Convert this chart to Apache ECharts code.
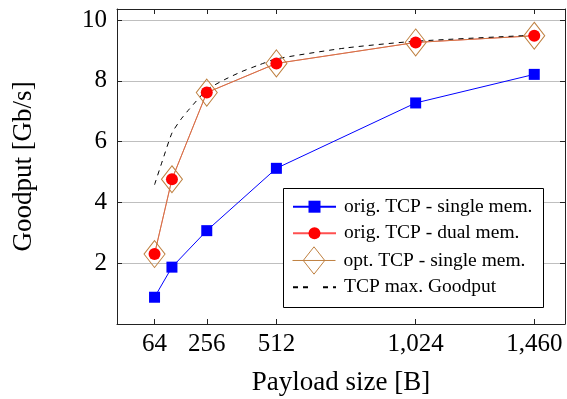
<!DOCTYPE html>
<html>
<head>
<meta charset="utf-8">
<script src="https://cdn.jsdelivr.net/npm/echarts@6/dist/echarts.min.js"></script>
<style>
  html, body { margin: 0; padding: 0; background: #fff; }
  #chart { width: 567px; height: 399px; }
</style>
</head>
<body>
<div id="chart"></div>
<script>
// payload sizes measured
const payloadX = [64, 128, 256, 512, 1024, 1460];
const xTicks = [64, 256, 512, 1024, 1460];

const origSingle = [0.88, 1.87, 3.07, 5.12, 7.27, 8.21];
const origDual = [2.30, 4.76, 7.61, 8.57, 9.26, 9.48];
const optSingle = [2.30, 4.76, 7.61, 8.57, 9.26, 9.48];

// theoretical max goodput curve
const maxX = [64, 96, 128, 160, 192, 256, 320, 384, 448, 512, 768, 1024, 1460];
const maxGoodput = [4.58, 5.45, 6.28, 6.72, 7.07, 7.7, 8.03, 8.3, 8.52, 8.72, 9.08, 9.3, 9.5];

const names = [
  'orig. TCP - single mem.',
  'orig. TCP - dual mem.',
  'opt. TCP - single mem.',
  'TCP max. Goodput'
];

const serif = 'Liberation Serif';
const pairs = (xs, ys) => xs.map((x, i) => [x, ys[i]]);

const chart = echarts.init(document.getElementById('chart'));

const axisLine = { show: true, onZero: false, lineStyle: { color: '#222', width: 1 } };
const tick = { show: true, inside: true, length: 5, lineStyle: { color: '#222' } };
const legendText = { fontFamily: serif, fontSize: 19.5, color: '#000', lineHeight: 20, padding: [0, 0, 0, 3] };

function legendRow(name, top, extra) {
  return Object.assign({
    show: true,
    left: 292,
    top: top,
    padding: 0,
    itemWidth: 43,
    itemHeight: 15,
    selectedMode: false,
    textStyle: legendText,
    data: [name],
    z: 5
  }, extra || {});
}

chart.setOption({
  animation: false,
  grid: { left: 117, right: 2, top: 9, bottom: 75, outerBoundsMode: 'none', containLabel: false },
  xAxis: [{
    type: 'value',
    min: -74,
    max: 1573,
    axisLine: axisLine,
    axisTick: Object.assign({ customValues: xTicks }, tick),
    axisLabel: {
      customValues: xTicks,
      margin: 8,
      fontFamily: serif,
      fontSize: 25,
      color: '#000',
      formatter: v => v.toLocaleString('en-US')
    },
    splitLine: { show: false },
    name: 'Payload size [B]',
    nameLocation: 'middle',
    nameGap: 45,
    nameTextStyle: { fontFamily: serif, fontSize: 27, color: '#000' }
  }, {
    type: 'value',
    position: 'top',
    min: -74,
    max: 1573,
    axisLine: axisLine,
    axisTick: Object.assign({ customValues: xTicks }, tick),
    axisLabel: { show: false },
    splitLine: { show: false }
  }],
  yAxis: [{
    type: 'value',
    min: 0,
    max: 10.36,
    interval: 2,
    axisLine: axisLine,
    axisTick: tick,
    axisLabel: {
      margin: 10,
      fontFamily: serif,
      fontSize: 25,
      color: '#000',
      formatter: v => (v > 0 && v % 2 === 0) ? String(v) : ''
    },
    splitLine: { show: true, lineStyle: { color: '#bfbfbf', width: 1 } },
    name: 'Goodput [Gb/s]',
    nameLocation: 'middle',
    nameRotate: 90,
    nameGap: 80,
    nameTextStyle: { fontFamily: serif, fontSize: 27, color: '#000' }
  }, {
    type: 'value',
    position: 'right',
    min: 0,
    max: 10.36,
    interval: 2,
    axisLine: axisLine,
    axisTick: tick,
    axisLabel: { show: false },
    splitLine: { show: false }
  }],
  graphic: [{
    type: 'rect',
    left: 283,
    top: 188,
    shape: { width: 260, height: 119 },
    style: { fill: '#fff', stroke: '#000', lineWidth: 1 },
    z: 4
  }],
  legend: [
    legendRow(names[0], 196.7),
    legendRow(names[1], 223.3),
    legendRow(names[2], 246.3, {
      itemHeight: 28,
      data: [{ name: names[2], icon: 'path://M0,14L44,14M11,14L22,0L33,14L22,28Z' }],
      itemStyle: { color: 'rgba(0,0,0,0)', borderColor: '#bf8040', borderWidth: 1 }
    }),
    legendRow(names[3], 277.3, {
      itemStyle: { color: 'rgba(0,0,0,0)', borderWidth: 0 }
    })
  ],
  series: [{
    name: names[0],
    type: 'line',
    data: pairs(payloadX, origSingle),
    symbol: 'rect',
    symbolSize: 11,
    itemStyle: { color: '#0000ff' },
    lineStyle: { color: '#0000ff', width: 1 }
  }, {
    name: names[1],
    type: 'line',
    data: pairs(payloadX, origDual),
    symbol: 'circle',
    symbolSize: 12,
    itemStyle: { color: '#ff0000' },
    lineStyle: { color: '#ff5050', width: 1 }
  }, {
    name: names[2],
    type: 'line',
    data: pairs(payloadX, optSingle),
    symbol: 'path://M11,0L22,14L11,28L0,14Z',
    symbolSize: [21, 27],
    itemStyle: { color: 'rgba(0,0,0,0)', borderColor: '#bf8040', borderWidth: 1 },
    lineStyle: { color: '#bf8040', width: 1, opacity: 0.75 }
  }, {
    name: names[3],
    type: 'line',
    data: pairs(maxX, maxGoodput),
    showSymbol: false,
    smooth: 0.2,
    itemStyle: { color: '#000' },
    lineStyle: { color: '#000', width: 1, type: [5, 5] }
  }]
});
</script>
</body>
</html>
